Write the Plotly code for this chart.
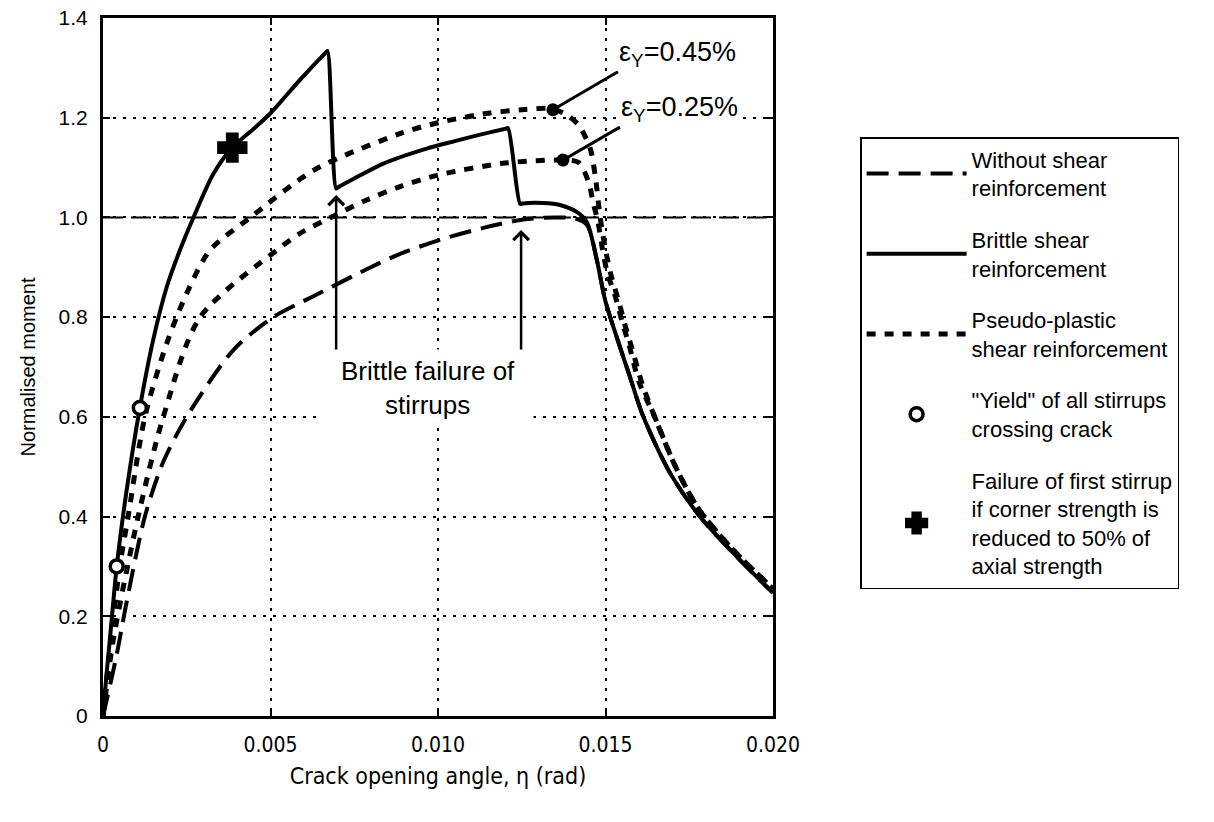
import plotly.graph_objects as go

# ---------------- data ----------------
x_ticks = [0, 0.005, 0.010, 0.015, 0.020]
x_tick_text = ["0", "0.005", "0.010", "0.015", "0.020"]
y_ticks = [0, 0.2, 0.4, 0.6, 0.8, 1.0, 1.2, 1.4]
y_tick_text = ["0", "0.2", "0.4", "0.6", "0.8", "1.0", "1.2", "1.4"]

# Without shear reinforcement (long dashes)
without_x = [0, 0.0004, 0.00068, 0.00125, 0.0018, 0.0025, 0.00389, 0.00508, 0.00628,
             0.00787, 0.00887, 0.01006, 0.01135, 0.01255, 0.0135, 0.0141,
             0.01445, 0.01474, 0.01499, 0.01533, 0.01573, 0.01613, 0.01693, 0.01782,
             0.01901, 0.020]
without_y = [0, 0.12, 0.22, 0.40, 0.51, 0.60, 0.734, 0.80, 0.842,
             0.896, 0.927, 0.955, 0.979, 0.996, 1.0, 0.998,
             0.985, 0.915, 0.834, 0.761, 0.68, 0.60, 0.487, 0.40,
             0.313, 0.247]

# Brittle shear reinforcement (solid)
brittle_x = [0, 0.0001, 0.0002, 0.00041, 0.0007, 0.0011, 0.0015, 0.0019, 0.0023, 0.0027,
             0.0033, 0.00386, 0.0045, 0.005, 0.00588, 0.00664, 0.0067, 0.00696, 0.00703,
             0.0075, 0.00837, 0.00966, 0.0105, 0.0112, 0.01202, 0.01209, 0.01245, 0.01252,
             0.01314, 0.01364, 0.01414, 0.01444, 0.01474, 0.01499, 0.01533, 0.01573,
             0.01613, 0.01693, 0.01782, 0.01901, 0.020]
brittle_y = [0, 0.08, 0.15, 0.30, 0.45, 0.618, 0.755, 0.86, 0.935, 1.0,
             1.088, 1.14, 1.178, 1.209, 1.276, 1.330, 1.334, 1.058, 1.061,
             1.078, 1.108, 1.138, 1.153, 1.165, 1.178, 1.179, 1.027, 1.028,
             1.029, 1.025, 1.011, 0.991, 0.915, 0.834, 0.761, 0.68,
             0.60, 0.487, 0.40, 0.313, 0.247]

# Pseudo-plastic shear reinforcement, eps_Y = 0.45 % (upper short dashes)
pp45_x = [0, 0.0002, 0.0005, 0.00075, 0.00125, 0.0019, 0.0025, 0.0032, 0.0044,
          0.0063, 0.0089, 0.010, 0.0115, 0.0125, 0.0134, 0.01385, 0.0142, 0.01454,
          0.0147, 0.01484, 0.01499, 0.01515, 0.0154, 0.0156, 0.0158, 0.0161,
          0.01648, 0.01707, 0.01776, 0.01877, 0.020]
pp45_y = [0, 0.13, 0.30, 0.40, 0.60, 0.747, 0.848, 0.935, 1.0,
          1.095, 1.169, 1.19, 1.209, 1.216, 1.218, 1.205, 1.185, 1.139,
          1.08, 1.0, 0.939, 0.888, 0.83, 0.78, 0.735, 0.665,
          0.598, 0.503, 0.417, 0.336, 0.255]

# Pseudo-plastic shear reinforcement, eps_Y = 0.25 % (lower short dashes)
pp25_x = [0, 0.0003, 0.00105, 0.0018, 0.0029, 0.0052, 0.00588, 0.0068, 0.00787,
          0.00887, 0.010, 0.012, 0.0137, 0.0142, 0.0145, 0.01463, 0.01478, 0.0149,
          0.01505, 0.0153, 0.0155, 0.0157, 0.016, 0.01648, 0.01707, 0.01776,
          0.01877, 0.020]
pp25_y = [0, 0.15, 0.40, 0.60, 0.80, 0.935, 0.968, 1.0, 1.035,
          1.062, 1.085, 1.109, 1.115, 1.11, 1.07, 1.03, 0.99, 0.94,
          0.89, 0.84, 0.79, 0.745, 0.67, 0.598, 0.503, 0.417,
          0.336, 0.255]

# Markers
yield_x = [0.00041, 0.0011]
yield_y = [0.30, 0.618]
fail_x = [0.00386]
fail_y = [1.14]
eps_x = [0.01343, 0.01373]
eps_y = [1.216, 1.115]
eps_labels = ["ε<sub>Y</sub>=0.45%", "ε<sub>Y</sub>=0.25%"]
ref_level = 1.0

# Brittle-failure arrows (x, tip y, tail y)
arrow_x = [0.00696, 0.01248]
arrow_tip = [1.045, 0.975]
arrow_tail = [0.614, 0.730]
note_x = 0.00969
note_y = 0.657

FONT = "Liberation Sans, Arial, Helvetica, sans-serif"
NARROW = "Liberation Sans Narrow, Arial Narrow, DejaVu Sans Condensed, Liberation Sans, sans-serif"

fig = go.Figure()

fig.add_trace(go.Scatter(
    x=without_x, y=without_y, mode="lines", name="Without shear<br>reinforcement",
    line=dict(color="black", width=4, dash="22px,10px", shape="spline", smoothing=0.8),
    legendgroup="a"))
fig.add_trace(go.Scatter(
    x=brittle_x, y=brittle_y, mode="lines", name="Brittle shear<br>reinforcement",
    line=dict(color="black", width=4, shape="spline", smoothing=0.8), legendgroup="b"))
fig.add_trace(go.Scatter(
    x=pp45_x, y=pp45_y, mode="lines", name="Pseudo-plastic<br>shear reinforcement",
    line=dict(color="black", width=5, dash="9px,9px", shape="spline", smoothing=0.8),
    legendgroup="c"))
fig.add_trace(go.Scatter(
    x=pp25_x, y=pp25_y, mode="lines", showlegend=False,
    line=dict(color="black", width=5, dash="9px,9px", shape="spline", smoothing=0.8),
    legendgroup="c"))
fig.add_trace(go.Scatter(
    x=yield_x, y=yield_y, mode="markers", name="\"Yield\" of all stirrups<br>crossing crack",
    marker=dict(symbol="circle", size=13, color="white", line=dict(color="black", width=3.5)),
    legendgroup="d"))
fig.add_trace(go.Scatter(
    x=fail_x, y=fail_y, mode="markers",
    name="Failure of first stirrup<br>if corner strength is<br>reduced to 50% of<br>axial strength",
    marker=dict(symbol="cross", size=22, color="black", line=dict(color="black", width=4)),
    legendgroup="e"))
fig.add_trace(go.Scatter(
    x=eps_x, y=eps_y, mode="markers", showlegend=False,
    marker=dict(symbol="circle", size=13, color="black")))

# reference level
fig.add_shape(type="line", xref="paper", x0=0, x1=1, yref="y", y0=ref_level, y1=ref_level,
              line=dict(color="black", width=2, dash="20px,8px"), layer="below")

# eps labels with leader lines (tail at the lower-left corner of each label)
offsets = [(65, -38), (57, -33)]
for xv, yv, lab, (axo, ayo) in zip(eps_x, eps_y, eps_labels, offsets):
    fig.add_annotation(x=xv, y=yv, text=lab, showarrow=True, arrowhead=0, arrowwidth=3,
                       arrowcolor="black", ax=axo, ay=ayo, xanchor="left", yanchor="bottom",
                       bgcolor="white", borderpad=0,
                       font=dict(family=FONT, size=27, color="black"))

# brittle failure arrows
for xv, tip, tail in zip(arrow_x, arrow_tip, arrow_tail):
    fig.add_annotation(x=xv, y=tip, ax=xv, ay=tail, axref="x", ayref="y", text="",
                       showarrow=True, arrowhead=4, arrowsize=1.2, arrowwidth=2.5,
                       arrowcolor="black")
fig.add_annotation(x=note_x, y=note_y, text="Brittle failure of<br>stirrups", showarrow=False,
                   bgcolor="white", width=208, height=74,
                   font=dict(family=FONT, size=26, color="black"))

fig.update_xaxes(range=[0, 0.020], tickvals=x_ticks, ticktext=x_tick_text,
                 showline=True, linecolor="black", linewidth=3, mirror="ticks",
                 ticks="inside", ticklen=7, tickwidth=2, tickcolor="black",
                 showgrid=True, gridcolor="black", gridwidth=2, griddash="3px,7px",
                 zeroline=False, ticklabelstandoff=8,
                 tickfont=dict(family=NARROW, size=21, color="black"),
                 title=dict(text="Crack opening angle, η (rad)", standoff=12,
                            font=dict(family=NARROW, size=23, color="black")))
fig.update_yaxes(range=[0, 1.4], tickvals=y_ticks, ticktext=y_tick_text,
                 showline=True, linecolor="black", linewidth=3, mirror="ticks",
                 ticks="inside", ticklen=7, tickwidth=2, tickcolor="black",
                 showgrid=True, gridcolor="black", gridwidth=2, griddash="3px,7px",
                 zeroline=False, ticklabelstandoff=8,
                 tickfont=dict(family=FONT, size=21, color="black"),
                 title=dict(text="Normalised moment", standoff=18,
                            font=dict(family=FONT, size=20, color="black")))

fig.update_layout(
    width=1214, height=822,
    margin=dict(l=103, r=441, t=18, b=106, autoexpand=False),
    paper_bgcolor="white", plot_bgcolor="white",
    font=dict(family=FONT, color="black"),
    showlegend=True,
    legend=dict(x=1.13, y=0.8295, xanchor="left", yanchor="top",
                bordercolor="black", borderwidth=1.5, bgcolor="white",
                font=dict(family=FONT, size=22, color="black"),
                itemwidth=100, tracegroupgap=20, valign="middle"),
)

fig.write_html("out.html", config={"displayModeBar": False},
               post_script="document.body.style.margin='0';document.body.style.overflow='hidden';")
